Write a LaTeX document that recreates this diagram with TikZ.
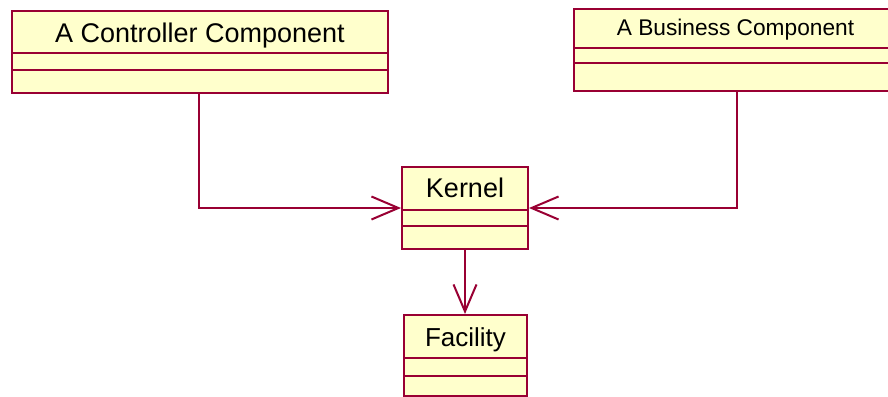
\documentclass[tikz,border=0pt]{standalone}
\usepackage{fontspec}
\setmainfont{Liberation Sans}
\usetikzlibrary{arrows.meta}
\definecolor{umlborder}{RGB}{153,0,51}
\definecolor{umlfill}{RGB}{255,255,204}
\tikzset{
  cls/.style={draw=umlborder, fill=umlfill, line width=2pt, rectangle,
    inner sep=0pt, anchor=north west},
  divider/.style={draw=umlborder, line width=2pt},
  title/.style={inner sep=0pt, text=black, anchor=base},
  assoc/.style={draw=umlborder, line width=2pt,
    -{Straight Barb[length=27pt,width=23pt]}}
}
\begin{document}
\begin{tikzpicture}[x=1pt,y=-1pt]
\useasboundingbox (0,0) rectangle (888,396);

% A Controller Component
\node[cls, minimum width=376pt, minimum height=82pt] (ctrl) at (11,10) {};
\draw[divider] (ctrl.west |- 0,53) -- (ctrl.east |- 0,53);
\draw[divider] (ctrl.west |- 0,70) -- (ctrl.east |- 0,70);
\node[title, font=\fontsize{27}{30}\selectfont] (ctrlT) at (ctrl.center |- 0,42.3) {A Controller Component};

% A Business Component
\node[cls, minimum width=317pt, minimum height=82pt] (biz) at (573,8) {};
\draw[divider] (biz.west |- 0,48) -- (biz.east |- 0,48);
\draw[divider] (biz.west |- 0,63) -- (biz.east |- 0,63);
\node[title, font=\fontsize{22.7}{26}\selectfont] (bizT) at (735.5,35.7) {A Business Component};

% Kernel
\node[cls, minimum width=126pt, minimum height=82pt] (kern) at (401,166) {};
\draw[divider] (kern.west |- 0,210) -- (kern.east |- 0,210);
\draw[divider] (kern.west |- 0,226) -- (kern.east |- 0,226);
\node[title, font=\fontsize{27}{30}\selectfont] (kernT) at (kern.center |- 0,197.7) {Kernel};

% Facility
\node[cls, minimum width=123pt, minimum height=81pt] (fac) at (403,314) {};
\draw[divider] (fac.west |- 0,358) -- (fac.east |- 0,358);
\draw[divider] (fac.west |- 0,376) -- (fac.east |- 0,376);
\node[title, font=\fontsize{26}{30}\selectfont] (facT) at (fac.center |- 0,346.7) {Facility};

% associations
\coordinate (jc) at (199,208);
\coordinate (jb) at (737,208);
\coordinate (jk) at (465,0);
\draw[assoc] (ctrl.south -| jc) |- (kern.west |- jc);
\draw[assoc] (biz.south -| jb) |- (kern.east |- jb);
\draw[assoc] (kern.south -| jk) -- (fac.north -| jk);
\end{tikzpicture}
\end{document}
